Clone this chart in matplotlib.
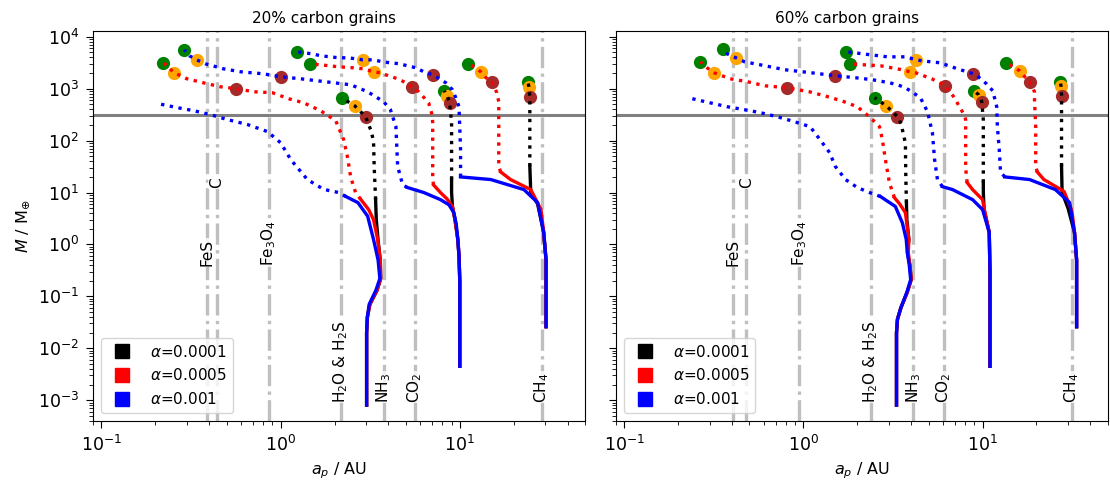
import numpy as np
import matplotlib
matplotlib.use("Agg")
import matplotlib.pyplot as plt
from matplotlib.lines import Line2D

# ---------------- 20% carbon grains (left) ----------------
# solid = solid accretion, dotted = gas accretion; a in AU, M in Earth masses
# track starting near 3 AU
a20_A_k = [3.02, 3.02, 3.05, 3.15, 3.45, 3.62, 3.6, 3.5, 3.42, 3.39]
m20_A_k = [8e-4, 0.02, 0.04, 0.07, 0.13, 0.22, 0.5, 1.2, 3.0, 7.3]
a20_A_r = [3.02, 3.02, 3.05, 3.15, 3.45, 3.62, 3.6, 3.48, 3.3, 3.1, 2.8]
m20_A_r = [8e-4, 0.02, 0.04, 0.07, 0.13, 0.22, 0.5, 1.25, 3.0, 4.7, 7.4]
a20_A_b = [3.02, 3.02, 3.05, 3.12, 3.4, 3.58, 3.5, 3.3, 3.06, 2.7, 2.31]
m20_A_b = [8e-4, 0.02, 0.04, 0.07, 0.13, 0.22, 0.5, 1.25, 3.5, 6.4, 8.4]
ga20_A_k = [3.39, 3.33, 3.3, 3.18, 2.98, 2.59, 2.19]
gm20_A_k = [7.3, 30, 100, 163, 290, 470, 670]
ga20_A_r = [2.8, 2.62, 2.46, 2.36, 2.25, 2.03, 1.67, 1.34, 1.11, 0.90, 0.707, 0.567, 0.46, 0.37, 0.30, 0.255, 0.222]
gm20_A_r = [7.4, 10, 20, 49, 104, 243, 378, 538, 642, 838, 875, 1000, 1093, 1304, 1557, 2030, 3160]
ga20_A_b = [2.31, 2.11, 1.74, 1.41, 1.14, 1.0, 0.846, 0.654, 0.506, 0.407, 0.327, 0.266, 0.208]
gm20_A_b = [8.4, 10, 11.5, 17.8, 43, 91, 149, 204, 254, 316, 378, 431, 515]
# track starting near 10 AU
a20_B_k = [10.0, 10.0, 10.0, 9.9, 9.75, 9.4, 9.1, 9.0, 9.0]
m20_B_k = [4.5e-3, 0.05, 0.2, 0.6, 1.25, 3.0, 5.4, 10, 17.8]
a20_B_r = [10.0, 10.0, 10.0, 9.9, 9.75, 9.4, 9.1, 8.5, 7.8, 7.14]
m20_B_r = [4.5e-3, 0.05, 0.2, 0.6, 1.25, 3.0, 5.4, 7.5, 10, 14]
a20_B_b = [10.0, 10.0, 10.0, 9.9, 9.75, 9.55, 9.26, 8.7, 7.8, 6.3, 5.1]
m20_B_b = [4.5e-3, 0.05, 0.2, 0.6, 1.25, 2.5, 4.1, 5.8, 7.3, 10, 12.5]
ga20_B_k = [9.0, 9.0, 9.0, 8.77, 8.5, 8.2]
gm20_B_k = [17.8, 80, 222, 537, 734, 915]
ga20_B_r = [7.14, 7.06, 7.06, 7.0, 6.7, 6.47, 5.9, 5.4, 5.0, 4.5, 4.0, 3.6, 3.3, 2.9, 2.56, 2.1, 1.67, 1.45]
gm20_B_r = [14, 17.8, 222, 316, 538, 615, 875, 1094, 1305, 1557, 1780, 2030, 2120, 2420, 2530, 2650, 2890, 3030]
ga20_B_b = [5.1, 4.8, 4.5, 4.4, 4.1, 3.76, 3.06, 2.46, 1.98, 1.29, 1.0, 0.80, 0.60, 0.48, 0.38, 0.34, 0.31, 0.29]
gm20_B_b = [12.5, 14, 32, 186, 395, 562, 875, 1194, 1305, 1557, 1700, 1940, 2120, 2420, 3030, 3610, 4310, 5630]
# track starting near 30 AU
a20_C_k = [30.3, 30.3, 30.3, 29.4, 27.2, 24.9, 24.6]
m20_C_k = [0.026, 0.1, 0.5, 1.7, 6.0, 10, 32]
a20_C_r = [30.3, 30.3, 30.3, 29.4, 28.4, 24.9, 19.2, 16.9]
m20_C_r = [0.026, 0.1, 0.5, 1.7, 4.7, 11.4, 17.8, 25]
a20_C_b = [30.3, 30.3, 30.3, 29.4, 27.2, 22.8, 14.9, 10.1]
m20_C_b = [0.026, 0.1, 0.5, 1.7, 6.4, 11.4, 17.8, 20]
ga20_C_k = [24.6, 24.6, 24.6, 24.3, 24.0]
gm20_C_k = [32, 200, 700, 1094, 1360]
ga20_C_r = [16.9, 16.5, 16.5, 16.5, 16.1, 15.1, 14.0, 13.1, 12.0, 11.1]
gm20_C_r = [25, 32, 178, 562, 838, 1360, 1630, 2120, 2650, 3030]
ga20_C_b = [10.1, 10.1, 10.1, 9.9, 9.5, 9.1, 8.35, 7.06, 6.3, 5.7, 5.1, 4.6, 4.1, 3.7, 3.3, 2.87, 2.62, 2.37, 2.1, 1.9, 1.67, 1.51, 1.34, 1.24]
gm20_C_b = [20, 25, 67, 450, 670, 957, 1305, 1860, 2120, 2530, 2770, 3030, 3160, 3300, 3610, 3610, 3780, 3950, 3950, 4120, 4310, 4700, 4930, 5160]
# time markers
green20_a = [0.222, 0.29, 1.24, 1.45, 2.19, 8.2, 11.1, 24.0]
green20_m = [3160, 5630, 5160, 3030, 670, 915, 3030, 1360]
orange20_a = [0.255, 0.34, 2.87, 3.3, 2.59, 8.5, 13.1, 24.3]
orange20_m = [2030, 3610, 3610, 2120, 470, 734, 2120, 1094]
brown20_a = [0.567, 1.0, 7.06, 5.4, 2.98, 8.77, 15.1, 24.6]
brown20_m = [1000, 1700, 1860, 1094, 290, 537, 1360, 700]
ice20 = [0.386, 0.439, 0.857, 2.16, 3.76, 5.6, 28.6]

# ---------------- 60% carbon grains (right) ----------------
a60_A_k = [3.31, 3.31, 3.35, 3.5, 3.8, 4.0, 3.93, 3.81, 3.88, 3.78, 3.76]
m60_A_k = [8e-4, 0.02, 0.036, 0.06, 0.12, 0.21, 0.4, 0.7, 1.25, 3.0, 6.4]
a60_A_r = [3.31, 3.31, 3.35, 3.5, 3.8, 4.0, 3.93, 3.85, 3.88, 3.71, 3.45, 3.22]
m60_A_r = [8e-4, 0.02, 0.036, 0.06, 0.12, 0.21, 0.4, 0.7, 1.25, 4.1, 6.0, 8.0]
a60_A_b = [3.31, 3.31, 3.35, 3.5, 3.78, 3.97, 3.9, 3.8, 3.75, 3.57, 3.26, 2.69]
m60_A_b = [8e-4, 0.02, 0.036, 0.06, 0.12, 0.21, 0.4, 0.7, 1.25, 2.6, 5.4, 8.4]
ga60_A_k = [3.76, 3.73, 3.71, 3.57, 3.53, 3.35, 2.9, 2.5]
gm60_A_k = [6.4, 20, 90, 163, 204, 290, 470, 670]
ga60_A_r = [3.22, 3.02, 2.87, 2.76, 2.66, 2.37, 2.0, 1.63, 1.31, 1.08, 0.81, 0.61, 0.49, 0.39, 0.318, 0.29, 0.266]
gm60_A_r = [8.0, 15.6, 43, 105, 186, 277, 450, 588, 733, 875, 1045, 1140, 1360, 1557, 2030, 2530, 3300]
ga60_A_b = [2.69, 2.34, 2.0, 1.72, 1.51, 1.40, 1.24, 1.09, 0.89, 0.716, 0.575, 0.47, 0.376, 0.30, 0.24]
gm60_A_b = [8.4, 10, 12.5, 17.8, 31.6, 59, 104, 186, 232, 289, 346, 395, 450, 538, 643]

a60_B_k = [11.0, 11.0, 11.0, 10.9, 10.2, 10.1, 10.1]
m60_B_k = [4.5e-3, 0.05, 0.3, 1.7, 4.7, 10, 15.6]
a60_B_r = [11.0, 11.0, 11.0, 10.9, 10.2, 10.0, 8.8, 8.2]
m60_B_r = [4.5e-3, 0.05, 0.3, 1.7, 5.0, 7.3, 11.4, 15.6]
a60_B_b = [11.0, 11.0, 11.0, 10.9, 10.0, 8.8, 6.8, 5.97]
m60_B_b = [4.5e-3, 0.05, 0.3, 1.7, 4.7, 7.3, 11.4, 13]
ga60_B_k = [10.1, 10.1, 10.1, 9.9, 9.5, 9.0]
gm60_B_k = [15.6, 100, 250, 562, 767, 915]
ga60_B_r = [8.2, 8.05, 8.05, 7.9, 7.43, 6.97, 6.2, 5.2, 4.23, 3.96, 3.35, 2.69, 2.19, 1.81]
gm60_B_r = [15.6, 30, 253, 316, 450, 670, 1140, 1557, 2030, 2120, 2420, 2770, 2890, 3030]
ga60_B_b = [5.97, 5.6, 5.4, 5.25, 4.93, 4.5, 4.1, 3.71, 3.35, 3.02, 2.43, 1.95, 1.51, 1.11, 0.79, 0.575, 0.47, 0.42, 0.376, 0.357]
gm60_B_b = [13, 17.8, 43, 142, 361, 670, 838, 1045, 1194, 1305, 1490, 1630, 1780, 2030, 2320, 2890, 3300, 3950, 4700, 5880]

a60_C_k = [33.5, 33.5, 33.5, 32.6, 30.0, 27.8, 27.6]
m60_C_k = [0.026, 0.1, 0.5, 1.7, 5.0, 10, 32]
a60_C_r = [33.5, 33.5, 33.5, 32.6, 31.5, 28.5, 22.0, 20.2]
m60_C_r = [0.026, 0.1, 0.5, 1.7, 4.5, 10.5, 17.8, 25]
a60_C_b = [33.5, 33.5, 33.5, 32.6, 30.6, 25.5, 18.3, 13.3]
m60_C_b = [0.026, 0.1, 0.5, 1.7, 6.4, 11.4, 17.8, 20]
ga60_C_k = [27.6, 27.6, 27.6, 27.4, 27.1]
gm60_C_k = [32, 200, 734, 1140, 1360]
ga60_C_r = [20.2, 19.8, 19.8, 19.6, 19.5, 19.5, 18.3, 17.2, 16.1, 15.1, 13.6]
gm60_C_r = [25, 32, 186, 395, 615, 875, 1360, 1700, 2220, 2530, 3160]
ga60_C_b = [13.3, 12.6, 12.4, 12.1, 12.0, 11.4, 10.5, 9.6, 8.9, 7.25, 5.8, 4.6, 4.27, 3.71, 2.95, 2.37, 1.93, 1.74]
gm60_C_b = [20, 25, 67, 186, 450, 915, 1250, 1630, 1940, 2420, 3160, 3450, 3610, 4120, 4120, 4510, 4930, 5160]

green60_a = [0.266, 0.357, 2.5, 1.74, 1.81, 9.0, 13.6, 27.1]
green60_m = [3300, 5880, 670, 5160, 3030, 915, 3160, 1360]
orange60_a = [0.318, 0.42, 2.9, 4.27, 3.96, 9.5, 16.1, 27.4]
orange60_m = [2030, 3950, 470, 3610, 2120, 767, 2220, 1140]
brown60_a = [0.81, 1.51, 3.35, 8.9, 6.2, 9.9, 18.3, 27.6]
brown60_m = [1045, 1780, 290, 1940, 1140, 562, 1360, 734]
ice60 = [0.407, 0.48, 0.95, 2.37, 4.1, 6.1, 31.4]

ice_names = ["FeS", "C", "Fe$_3$O$_4$", "H$_2$O & H$_2$S", "NH$_3$", "CO$_2$", "CH$_4$"]
ice_text_m = [0.38, 12, 0.38, 9e-4, 9e-4, 9e-4, 9e-4]
alphas = ["0.0001", "0.0005", "0.001"]
m_jup = 317.8

fig, axes = plt.subplots(1, 2, figsize=(11.1, 4.91), sharey=True)
fig.subplots_adjust(left=0.084, right=0.998, bottom=0.143, top=0.937, wspace=0.063)

panels = [
    (axes[0], "20% carbon grains", ice20,
     [(a20_A_k, m20_A_k, ga20_A_k, gm20_A_k, 'k'), (a20_A_r, m20_A_r, ga20_A_r, gm20_A_r, 'r'),
      (a20_A_b, m20_A_b, ga20_A_b, gm20_A_b, 'b'),
      (a20_B_k, m20_B_k, ga20_B_k, gm20_B_k, 'k'), (a20_B_r, m20_B_r, ga20_B_r, gm20_B_r, 'r'),
      (a20_B_b, m20_B_b, ga20_B_b, gm20_B_b, 'b'),
      (a20_C_k, m20_C_k, ga20_C_k, gm20_C_k, 'k'), (a20_C_r, m20_C_r, ga20_C_r, gm20_C_r, 'r'),
      (a20_C_b, m20_C_b, ga20_C_b, gm20_C_b, 'b')],
     [(green20_a, green20_m, 'green'), (orange20_a, orange20_m, 'orange'), (brown20_a, brown20_m, 'brown')]),
    (axes[1], "60% carbon grains", ice60,
     [(a60_A_k, m60_A_k, ga60_A_k, gm60_A_k, 'k'), (a60_A_r, m60_A_r, ga60_A_r, gm60_A_r, 'r'),
      (a60_A_b, m60_A_b, ga60_A_b, gm60_A_b, 'b'),
      (a60_B_k, m60_B_k, ga60_B_k, gm60_B_k, 'k'), (a60_B_r, m60_B_r, ga60_B_r, gm60_B_r, 'r'),
      (a60_B_b, m60_B_b, ga60_B_b, gm60_B_b, 'b'),
      (a60_C_k, m60_C_k, ga60_C_k, gm60_C_k, 'k'), (a60_C_r, m60_C_r, ga60_C_r, gm60_C_r, 'r'),
      (a60_C_b, m60_C_b, ga60_C_b, gm60_C_b, 'b')],
     [(green60_a, green60_m, 'green'), (orange60_a, orange60_m, 'orange'), (brown60_a, brown60_m, 'brown')]),
]

for ax, title, ice, tracks, dots in panels:
    ax.set_xscale('log')
    ax.set_yscale('log')
    for x, name, ym in zip(ice, ice_names, ice_text_m):
        ax.axvline(x, color='grey', ls='-.', lw=2.4, alpha=0.5, zorder=1)
        ax.text(x, ym, name, rotation=90, ha='center', va='bottom', fontsize=11, zorder=2,
                bbox=dict(facecolor='white', edgecolor='none', alpha=0.8, pad=0.5))
    ax.axhline(m_jup, color='grey', lw=2.2, zorder=1)
    for xa, ym, c in dots:
        ax.plot(xa, ym, 'o', color=c, ms=9.5, mew=0, zorder=3)
    for a_s, m_s, a_g, m_g, c in tracks:
        ax.plot(a_g, m_g, ls=':', color=c, lw=2.4, zorder=4)
        ax.plot(a_s, m_s, ls='-', color=c, lw=2.4, zorder=5)
    ax.set_xlim(0.09, 50)
    ax.set_ylim(4e-4, 1.3e4)
    ax.set_title(title, fontsize=11, x=0.47)
    ax.set_xlabel("$a_p$ / AU", fontsize=11.5)
    ax.tick_params(which='major', labelsize=12.5, length=5.2, pad=5)
    ax.tick_params(which='minor', length=3)
    handles = [Line2D([], [], marker='s', ls='none', color=c, ms=10) for c in ['k', 'r', 'b']]
    ax.legend(handles, [r"$\alpha$=" + s for s in alphas], loc='lower left', fontsize=11)

axes[0].set_ylabel(r"$M$ / M$_{\oplus}$", fontsize=11.5)

fig.savefig("out.png", dpi=100)
